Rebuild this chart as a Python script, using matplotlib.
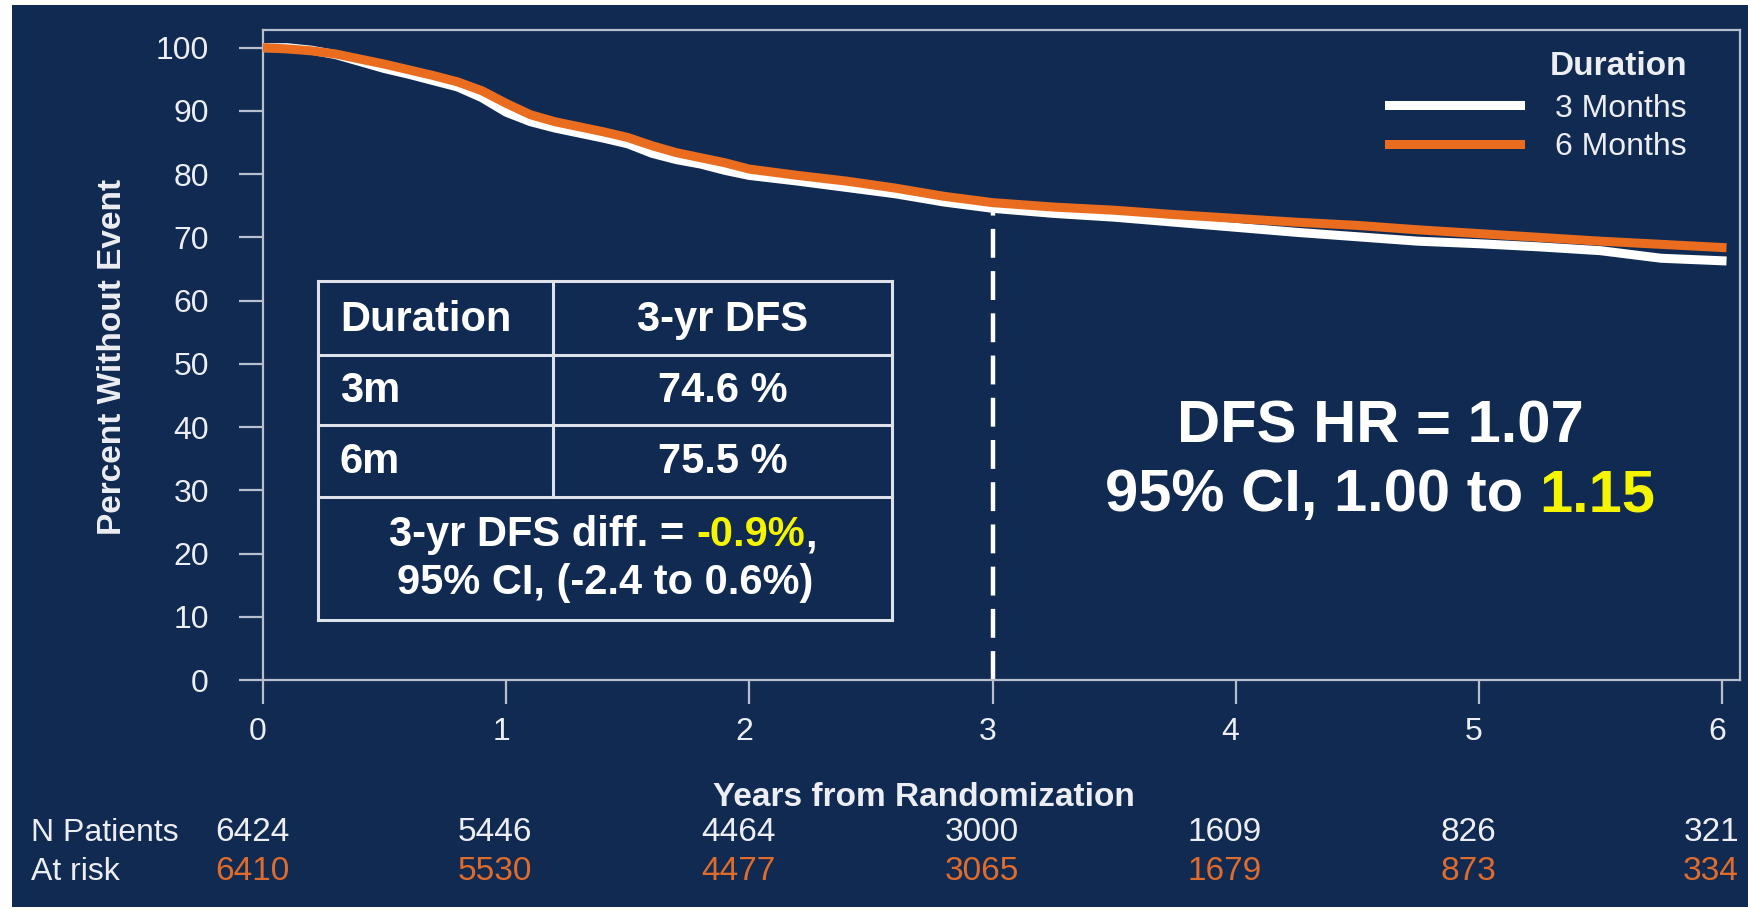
import matplotlib
matplotlib.use("Agg")
import matplotlib.pyplot as plt
import matplotlib.transforms as mtransforms
from matplotlib.patches import Rectangle
from matplotlib.text import Text

plt.rcParams["font.family"] = ["Liberation Sans", "DejaVu Sans"]

# ---- data -------------------------------------------------------------
years = [0, 0.1, 0.2, 0.3, 0.4, 0.5, 0.6, 0.7, 0.8, 0.9, 1.0, 1.1, 1.2, 1.3,
         1.4, 1.5, 1.6, 1.7, 1.8, 1.9, 2.0, 2.2, 2.4, 2.6, 2.8, 3.0, 3.25,
         3.5, 3.75, 4.0, 4.25, 4.5, 4.75, 5.0, 5.25, 5.5, 5.75, 6.0]
dfs_3m = [100, 100, 99.6, 98.9, 97.8, 96.7, 95.8, 94.8, 93.8, 92.1, 89.8,
          88.3, 87.3, 86.5, 85.7, 84.8, 83.3, 82.3, 81.6, 80.6, 79.8, 78.9,
          77.9, 76.9, 75.6, 74.6, 73.8, 73.2, 72.4, 71.6, 70.8, 70.1, 69.4,
          69.0, 68.5, 67.9, 66.7, 66.3]
dfs_6m = [100, 99.8, 99.5, 99.0, 98.2, 97.4, 96.5, 95.6, 94.6, 93.2, 91.2,
          89.4, 88.3, 87.5, 86.7, 85.8, 84.5, 83.4, 82.6, 81.8, 80.8, 79.8,
          78.9, 77.8, 76.5, 75.5, 74.8, 74.3, 73.6, 73.0, 72.4, 71.9, 71.2,
          70.6, 70.0, 69.4, 68.9, 68.4]
series_labels = ["3 Months", "6 Months"]
legend_title = "Duration"

risk_years = [0, 1, 2, 3, 4, 5, 6]
at_risk_3m = [6424, 5446, 4464, 3000, 1609, 826, 321]
at_risk_6m = [6410, 5530, 4477, 3065, 1679, 873, 334]
risk_row_labels = ["N Patients", "At risk"]

landmark_year = 3
table_header = ["Duration", "3-yr DFS"]
table_arms = ["3m", "6m"]
table_dfs = [74.6, 75.5]
dfs_diff = -0.9
dfs_diff_ci = (-2.4, 0.6)
hazard_ratio = 1.07
hr_ci = (1.00, 1.15)

y_ticks = list(range(0, 101, 10))
x_ticks = [0, 1, 2, 3, 4, 5, 6]

# ---- style ------------------------------------------------------------
NAVY = "#112a52"
WHITE = "#ffffff"
TEXT = "#eceef3"
ORANGE = "#ea6c1e"
ORANGE_TXT = "#df6c2a"
YELLOW = "#f5f500"
SPINE = "#b7bfcf"
GRID_LINE = "#dde2ea"

W, H = 1749, 911
fig = plt.figure(figsize=(W / 100, H / 100), dpi=100, facecolor="white")
fig.patches.append(Rectangle((12 / W, 4 / H), 1 - 12 / W, 1 - 9 / H,
                             transform=fig.transFigure, facecolor=NAVY,
                             edgecolor="none", zorder=-10))

ax = fig.add_axes([263 / W, 1 - 680 / H, 1477 / W, 650 / H])
ax.set_facecolor(NAVY)

ax.plot(years, dfs_3m, color=WHITE, lw=6.5, label=series_labels[0], zorder=3)
ax.plot(years, dfs_6m, color=ORANGE, lw=6.5, label=series_labels[1], zorder=4)

# landmark at 3 years
ax.plot([landmark_year, landmark_year], [0, table_dfs[0]], color=WHITE,
        lw=3.2, dashes=(6.5, 3.0), zorder=2)

ax.set_xlim(0, 6.074)
ax.set_ylim(0, 102.8)
ax.set_xticks(x_ticks)
ax.set_yticks(y_ticks)
ax.tick_params(axis="both", direction="out", length=17, width=1.6,
               color=SPINE, labelcolor=TEXT, labelsize=23)
ax.tick_params(axis="y", pad=22)
ax.tick_params(axis="x", pad=10)
for s in ax.spines.values():
    s.set_color(SPINE)
    s.set_linewidth(1.6)

# x tick labels sit slightly left of their ticks
shift_left = mtransforms.ScaledTranslation(-5 / 100, 0, fig.dpi_scale_trans)
for lbl in ax.get_xticklabels():
    lbl.set_transform(lbl.get_transform() + shift_left)

ax.set_ylabel("Percent Without Event", fontsize=24, fontweight="bold",
              color=TEXT)
ax.yaxis.set_label_coords(-0.1022, 0.497)
ax.yaxis.label.set_va("center")
ax.set_xlabel("Years from Randomization", fontsize=24, fontweight="bold",
              color=TEXT)
ax.xaxis.set_label_coords(0.4475, -0.181)
ax.xaxis.label.set_va("center")

leg = ax.legend(title=legend_title, loc="upper right",
                bbox_to_anchor=(0.9641, 0.967), frameon=False, fontsize=23,
                title_fontproperties={"weight": "bold", "size": 24},
                handlelength=4.1, handletextpad=1.1, labelspacing=0.27,
                alignment="right", borderpad=0, borderaxespad=0,
                labelcolor=TEXT)
leg.get_title().set_color(TEXT)
leg._legend_box.sep = 8

# ---- numbers at risk --------------------------------------------------
risk_tr = mtransforms.blended_transform_factory(ax.transData, ax.transAxes)
for yr, n3, n6 in zip(risk_years, at_risk_3m, at_risk_6m):
    ax.text(yr - 0.045, -0.2352, f"{n3}", transform=risk_tr, ha="center",
            va="center", fontsize=24, color=TEXT, clip_on=False)
    ax.text(yr - 0.045, -0.2952, f"{n6}", transform=risk_tr, ha="center",
            va="center", fontsize=24, color=ORANGE_TXT, clip_on=False)
fig.text(31 / W, 1 - 833 / H, risk_row_labels[0], ha="left", va="center",
         fontsize=23, color=TEXT)
fig.text(31 / W, 1 - 872 / H, risk_row_labels[1], ha="left", va="center",
         fontsize=23, color=TEXT)

# ---- summary table ----------------------------------------------------
tx0, txm, tx1 = 0.0372, 0.1963, 0.4259
ty = [0.6138, 0.5, 0.3923, 0.2815, 0.0923]
tkw = dict(transform=ax.transAxes, color=GRID_LINE, lw=2.2, zorder=5,
           clip_on=False)
for yv in ty:
    ax.plot([tx0, tx1], [yv, yv], **tkw)
ax.plot([tx0, tx0], [ty[0], ty[-1]], **tkw)
ax.plot([tx1, tx1], [ty[0], ty[-1]], **tkw)
ax.plot([txm, txm], [ty[0], ty[3]], **tkw)

cell_kw = dict(transform=ax.transAxes, fontsize=30, fontweight="bold",
               color=WHITE, va="center", zorder=6)
lx = 0.0521
cx = 0.3114
ax.text(lx, 0.5535, table_header[0], ha="left", **cell_kw)
ax.text(cx, 0.5535, table_header[1], ha="center", **cell_kw)
for arm, val, yv in zip(table_arms, table_dfs, [0.4440, 0.3347]):
    ax.text(lx, yv, arm, ha="left", **cell_kw)
    ax.text(cx, yv, f"{val:.1f} %", ha="center", **cell_kw)

renderer = fig.canvas.get_renderer()


def text_width(s, size, weight):
    probe = Text(0, 0, "x" + s + "x", fontsize=size, fontweight=weight)
    probe.set_figure(fig)
    pair = Text(0, 0, "xx", fontsize=size, fontweight=weight)
    pair.set_figure(fig)
    return (probe.get_window_extent(renderer).width
            - pair.get_window_extent(renderer).width)


def rich_text(x, y, parts, size, weight="bold"):
    widths = [text_width(s, size, weight) for s, _ in parts]
    total = sum(widths)
    off = -total / 2
    for (s, c), w in zip(parts, widths):
        tr = mtransforms.offset_copy(ax.transAxes, fig=fig, x=off, y=0,
                                     units="dots")
        ax.text(x, y, s, transform=tr, ha="left", va="center", fontsize=size,
                fontweight=weight, color=c, zorder=6, clip_on=False)
        off += w


rich_text(0.2302, 0.2230,
          [("3-yr DFS diff. = ", WHITE), (f"{dfs_diff:.1f}%", YELLOW),
           (",", WHITE)], 30)
rich_text(0.2316, 0.1492,
          [(f"95% CI, ({dfs_diff_ci[0]:.1f} to {dfs_diff_ci[1]:.1f}%)", WHITE)],
          30)

rich_text(0.7563, 0.3892, [(f"DFS HR = {hazard_ratio:.2f}", WHITE)], 43)
rich_text(0.7563, 0.2831,
          [(f"95% CI, {hr_ci[0]:.2f} to ", WHITE), (f"{hr_ci[1]:.2f}", YELLOW)],
          43)

fig.savefig("out.png", dpi=100, facecolor=fig.get_facecolor())
